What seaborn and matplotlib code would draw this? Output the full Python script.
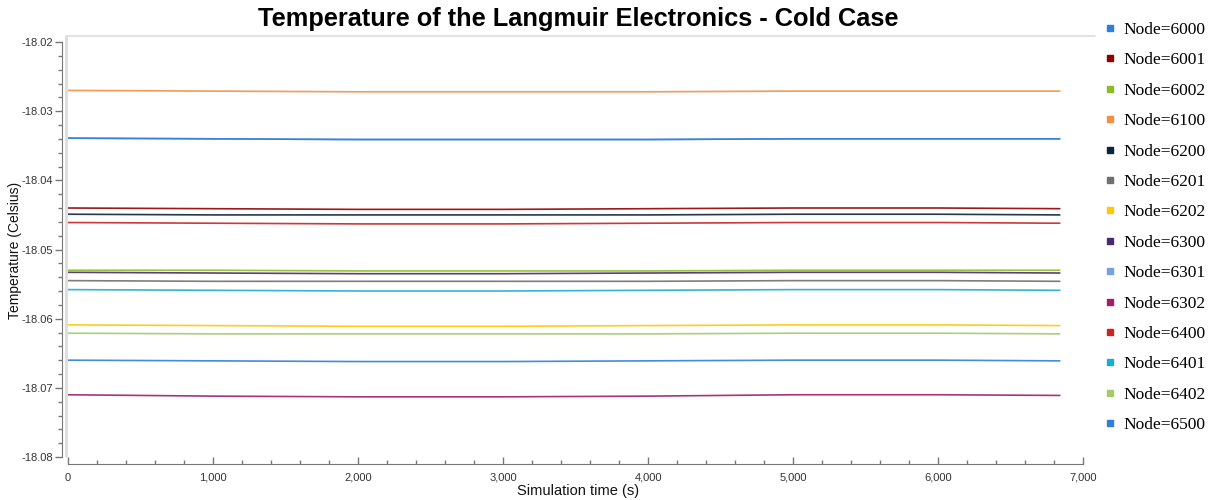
import pandas as pd
import matplotlib.pyplot as plt
import seaborn as sns
from matplotlib.lines import Line2D
from matplotlib.ticker import MultipleLocator, FuncFormatter


times = [0, 1000, 2000, 3000, 4000, 5000, 6000, 6840]

nodes = ["Node=6000", "Node=6001", "Node=6002", "Node=6100", "Node=6200",
         "Node=6201", "Node=6202", "Node=6300", "Node=6301", "Node=6302",
         "Node=6400", "Node=6401", "Node=6402", "Node=6500"]

colors = ["#2f7ed8", "#910000", "#8bbc21", "#f28f43", "#0d233a",
          "#6f6f6f", "#ffc800", "#492970", "#77a1e5", "#9c1f6c",
          "#c42525", "#1aadce", "#a6c96a", "#2f7ed8"]

temp_6000 = [-18.0339, -18.0340, -18.0341, -18.0341, -18.0341, -18.0340, -18.0340, -18.0340]
temp_6001 = [-18.0440, -18.0441, -18.0442, -18.0442, -18.0441, -18.0440, -18.0440, -18.0441]
temp_6002 = [-18.0530, -18.0530, -18.0531, -18.0531, -18.0531, -18.0530, -18.0530, -18.0530]
temp_6100 = [-18.0270, -18.0271, -18.0272, -18.0272, -18.0272, -18.0271, -18.0271, -18.0271]
temp_6200 = [-18.0449, -18.0450, -18.0450, -18.0450, -18.0450, -18.0449, -18.0449, -18.0450]
temp_6201 = [-18.0545, -18.0546, -18.0546, -18.0546, -18.0546, -18.0545, -18.0545, -18.0546]
temp_6202 = [-18.0609, -18.0610, -18.0611, -18.0611, -18.0610, -18.0609, -18.0609, -18.0610]
temp_6300 = [-18.0533, -18.0534, -18.0535, -18.0535, -18.0534, -18.0533, -18.0533, -18.0534]
temp_6301 = [-18.0339, -18.0340, -18.0341, -18.0341, -18.0341, -18.0340, -18.0340, -18.0340]
temp_6302 = [-18.0710, -18.0712, -18.0713, -18.0713, -18.0712, -18.0710, -18.0710, -18.0711]
temp_6400 = [-18.0461, -18.0462, -18.0463, -18.0463, -18.0462, -18.0461, -18.0461, -18.0462]
temp_6401 = [-18.0558, -18.0559, -18.0560, -18.0560, -18.0559, -18.0558, -18.0558, -18.0559]
temp_6402 = [-18.0621, -18.0622, -18.0622, -18.0622, -18.0622, -18.0621, -18.0621, -18.0622]
temp_6500 = [-18.0660, -18.0661, -18.0662, -18.0662, -18.0661, -18.0660, -18.0660, -18.0661]

series = [temp_6000, temp_6001, temp_6002, temp_6100, temp_6200, temp_6201, temp_6202,
          temp_6300, temp_6301, temp_6302, temp_6400, temp_6401, temp_6402, temp_6500]

# long-form table for seaborn (6301 drawn first so it sits under 6000)
draw_order = [8] + [i for i in range(len(nodes)) if i != 8]
rows = []
for i in draw_order:
    for t, v in zip(times, series[i]):
        rows.append({"time": t, "temp": v, "node": nodes[i]})
df = pd.DataFrame(rows)

sns.set_style("white")
plt.rcParams["font.family"] = ["Liberation Sans", "DejaVu Sans"]

fig = plt.figure(figsize=(12.2, 5), dpi=100)
ax = fig.add_axes([68 / 1220, 43 / 500, 1015 / 1220, 415 / 500])

palette = dict(zip(nodes, colors))
sns.lineplot(data=df, x="time", y="temp", hue="node", hue_order=[nodes[i] for i in draw_order],
             palette=palette, linewidth=1.2, legend=False, ax=ax, alpha=0.9)

ax.set_xlim(0, 7000)
ax.set_ylim(-18.08, -18.02)
ax.xaxis.set_major_locator(MultipleLocator(1000))
ax.xaxis.set_minor_locator(MultipleLocator(200))
ax.yaxis.set_major_locator(MultipleLocator(0.01))
ax.yaxis.set_minor_locator(MultipleLocator(0.002))
ax.xaxis.set_major_formatter(FuncFormatter(lambda v, p: f"{v:,.0f}"))
ax.yaxis.set_major_formatter(FuncFormatter(lambda v, p: f"{v:.2f}"))

for s in ["top", "right"]:
    ax.spines[s].set_visible(False)
ax.spines["left"].set_position(("outward", 4))
ax.spines["bottom"].set_position(("outward", 5))
ax.spines["left"].set_color("#777777")
ax.spines["bottom"].set_color("#777777")
ax.tick_params(axis="y", which="major", direction="out", length=5, width=1, color="#777777",
               labelsize=8, labelcolor="#333333", left=True, pad=2)
ax.tick_params(axis="y", which="minor", direction="out", length=3, width=1, color="#777777", left=True)
ax.tick_params(axis="x", which="major", direction="in", length=5, width=1, color="#777777",
               labelsize=8, labelcolor="#333333", bottom=True, pad=6.5)
ax.tick_params(axis="x", which="minor", direction="in", length=3, width=1, color="#777777", bottom=True)
ax.set_xlabel("")
ax.set_ylabel("")

# light plot frame (top and left)
fig.add_artist(Line2D([66 / 1220, 1095 / 1220], [1 - 36 / 500, 1 - 36 / 500], color="#dddddd", lw=1.2))
fig.add_artist(Line2D([66 / 1220, 66 / 1220], [1 - 36 / 500, 1 - 456 / 500], color="#dddddd", lw=2))

fig.text(0.474, 0.962, "Temperature of the Langmuir Electronics - Cold Case",
         ha="center", va="center", fontsize=18.3, fontweight="bold", color="black")
fig.text(0.474, 0.018, "Simulation time (s)", ha="center", va="center", fontsize=10.5, color="#111111")
fig.text(0.012, 0.5, "Temperature (Celsius)", ha="center", va="center", rotation=90,
         fontsize=10, color="#111111")

handles = [Line2D([], [], marker="s", linestyle="", color=c, markersize=5) for c in colors]
fig.legend(handles, nodes, loc="upper left", bbox_to_anchor=(1094 / 1220, 1 - 15 / 500),
           frameon=False, prop={"family": "Liberation Serif", "size": 12.5},
           labelcolor="black", labelspacing=0.82, handletextpad=0.3, handlelength=1.0,
           borderaxespad=0)

fig.savefig("out.png", dpi=100)
